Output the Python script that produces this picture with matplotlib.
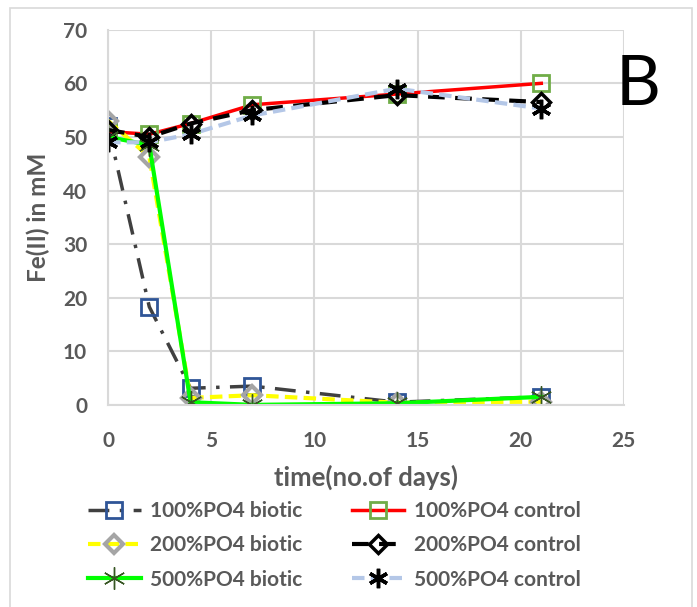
"""Fe(II) concentration over time for biotic and control PO4 treatments (panel B)"""

import numpy as np
import matplotlib.pyplot as plt
from matplotlib.patches import Rectangle

plt.rcParams['font.family'] = ['Lato', 'DejaVu Sans']

days = [0, 2, 4, 7, 14, 21]

po4_100_biotic = [52, 18.3, 3.1, 3.5, 0.5, 1.5]
po4_100_control = [51, 50.5, 52.5, 56, 58, 60]
po4_200_biotic = [53, 46.3, 1.3, 1.8, 0.4, 0.6]
po4_200_control = [51.3, 50, 52.5, 55, 57.8, 56.5]
po4_500_biotic = [50, 48.5, 0.5, 0.0, 0.3, 1.5]
po4_500_control = [49, 49, 50.5, 54, 59, 55.3]

gray_txt = '#595959'
asterisk = (6, 2, 0)

fig = plt.figure(figsize=(6.97, 6.07), dpi=100)
ax = fig.add_axes([0.155, 0.333, 0.74, 0.618])

ax.plot(days, po4_100_biotic, color='#404040', lw=2.5, dashes=(6, 3, 1, 3),
        marker='s', ms=11, mfc='none', mec='#2F5597', mew=2,
        label='100%PO4 biotic')
ax.plot(days, po4_100_control, color='#FF0000', lw=2.5,
        marker='s', ms=11, mfc='none', mec='#70AD47', mew=2,
        label='100%PO4 control')
ax.plot(days, po4_200_biotic, color='#FFFF00', lw=3, dashes=(3, 1.5),
        marker='D', ms=9, mfc='none', mec='#A5A5A5', mew=3,
        label='200%PO4 biotic')
ax.plot(days, po4_200_control, color='#000000', lw=3, dashes=(4, 2.5),
        marker='D', ms=9, mfc='none', mec='#000000', mew=2.5,
        label='200%PO4 control')
ax.plot(days, po4_500_biotic, color='#00FF00', lw=3,
        marker=asterisk, ms=16, mec='#375623', mew=1,
        label='500%PO4 biotic')
ax.plot(days, po4_500_control, color='#B4C7E7', lw=3, dashes=(3, 1.5),
        marker=asterisk, ms=14, mec='#000000', mew=2.5,
        label='500%PO4 control')

ax.set_xlim(0, 25)
ax.set_ylim(0, 70)
ax.set_xticks(np.arange(0, 26, 5))
ax.set_yticks(np.arange(0, 71, 10))
ax.grid(True, color='#D9D9D9', lw=1.5)
ax.set_axisbelow(True)
for side in ['top', 'right']:
    ax.spines[side].set_visible(False)
for side in ['left', 'bottom']:
    ax.spines[side].set_color('#D9D9D9')
    ax.spines[side].set_linewidth(1.5)
ax.tick_params(length=0, labelsize=15, labelcolor=gray_txt)
ax.tick_params(axis='x', pad=19)
ax.tick_params(axis='y', pad=15)
for lbl in ax.get_xticklabels() + ax.get_yticklabels():
    lbl.set_fontweight('bold')

ax.set_xlabel('time(no.of days)', fontsize=18.5, fontweight='bold',
              color=gray_txt, labelpad=10)
ax.set_ylabel('Fe(II) in mM', fontsize=17.5, fontweight='bold',
              color=gray_txt, labelpad=9)

handles, labels = ax.get_legend_handles_labels()
order = [0, 2, 4, 1, 3, 5]
leg = fig.legend([handles[i] for i in order], [labels[i] for i in order],
                 ncol=2, loc='upper left', bbox_to_anchor=(0.1, 0.205),
                 frameon=False, fontsize=15, handlelength=2.5,
                 handletextpad=0.45, columnspacing=2.4, labelspacing=0.68)
for t in leg.get_texts():
    t.set_color(gray_txt)
    t.set_fontweight('bold')

fig.text(0.883, 0.827, 'B', fontsize=50, color='black', va='baseline')

# chart frame, open at the bottom edge
fig.patches.append(Rectangle((0.0143, -0.05), 0.9785, 1.0368,
                             transform=fig.transFigure, fill=False,
                             edgecolor='#D9D9D9', lw=1.2))

fig.savefig('out.png', dpi=100)
